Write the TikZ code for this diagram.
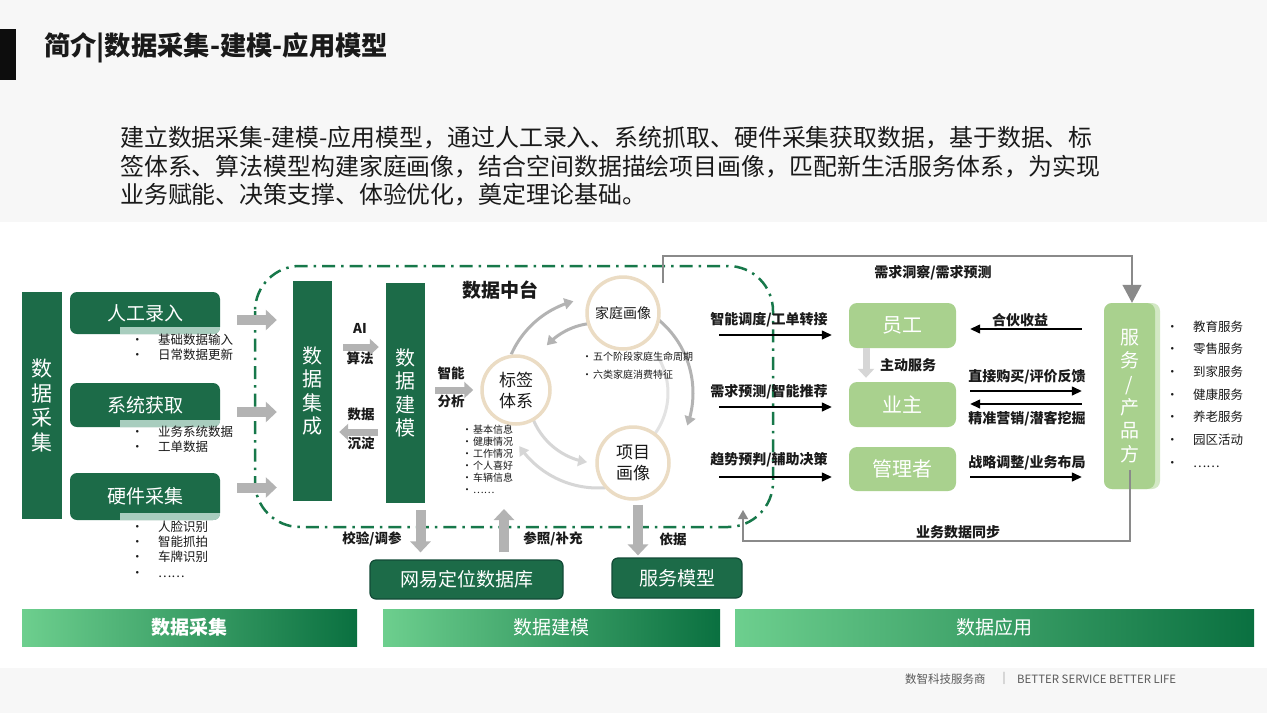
\documentclass[tikz,border=0pt]{standalone}
\usepackage{fontspec}
\setmainfont{Noto Sans CJK SC}
\usetikzlibrary{arrows.meta,calc}
\definecolor{dg}{HTML}{1C6B48}
\definecolor{stripc}{HTML}{A8CDBE}
\definecolor{lg}{HTML}{A9D18E}
\definecolor{lgs}{HTML}{D3E8C5}
\definecolor{bandgray}{HTML}{F7F7F7}
\definecolor{ddc}{HTML}{17784A}
\definecolor{ag}{HTML}{B3B3B3}
\definecolor{agl}{HTML}{D6D6D6}
\definecolor{agll}{HTML}{E3E3E3}
\definecolor{beige}{HTML}{EBDCC4}
\definecolor{connc}{HTML}{8A8A8A}
\definecolor{gll}{HTML}{6DCF8E}
\definecolor{gdd}{HTML}{0A7040}
\definecolor{txt}{HTML}{1A1A1A}
\definecolor{footc}{HTML}{5A5A5A}
\definecolor{dbborder}{HTML}{124A36}
\newcommand{\fs}[2]{\fontsize{#1}{#2}\selectfont}
\newcommand{\bl}[1]{\makebox[#1][l]{•}}
\begin{document}
\begin{tikzpicture}[x=1pt,y=-1pt,
  vbox/.style={fill=dg, text=white, inner sep=0, align=center},
  lbox/.style={fill=dg, text=white, inner sep=0, rounded corners=7, minimum width=150pt, font=\fs{19}{22}},
  gbox/.style={fill=lg, text=white, rounded corners=8, inner sep=0, minimum width=107pt, font=\fs{20}{24}},
  barrow/.style={draw=ag, line width=10pt, -{Triangle[length=11pt,width=20pt]}},
  sarrow/.style={draw=ag, line width=7pt, -{Triangle[length=9pt,width=16pt]}},
  karrow/.style={draw=black, line width=1.4pt, -{Triangle[length=10pt,width=9pt]}},
  lbl/.style={font=\bfseries\fs{13.5}{16}, text=txt, inner sep=0},
  blist/.style={align=left, inner sep=0, anchor=west, text=txt},
  conn/.style={draw=connc, line width=1.3pt},
  ring/.style={line width=3pt},
  circ/.style={circle, draw=beige, line width=3.5pt, fill=white, inner sep=0, align=center, text=txt},
  banner/.style={minimum height=37pt, inner sep=0, text=white, font=\fs{19}{22}},
  para/.style={anchor=west, inner sep=0, font=\fs{23.9}{28}, text=txt},
  dbbox/.style={fill=dg, draw=dbborder, line width=1.2pt, rounded corners=6, text=white, inner sep=0, font=\fs{19}{22}}
]
\useasboundingbox (0,0) rectangle (1267,713);
\fill[white] (0,0) rectangle (1267,713);
\fill[bandgray] (0,0) rectangle (1267,222);
\fill[bandgray] (0,668) rectangle (1267,713);
\fill[black!95] (0,29) rectangle (16,80);
\node[anchor=west, inner sep=0, font=\bfseries\fs{26.3}{30}, text=txt] (title) at (44,48) {简介|数据采集-建模-应用模型};
\node[para] (p1) at (120,138) {建立数据采集-建模-应用模型，通过人工录入、系统抓取、硬件采集获取数据，基于数据、标};
\node[para] (p2) at (120,167) {签体系、算法模型构建家庭画像，结合空间数据描绘项目画像，匹配新生活服务体系，为实现};
\node[para] (p3) at (120,195) {业务赋能、决策支撑、体验优化，奠定理论基础。};

% dash-dot platform region
\draw[draw=ddc, line width=2.5pt, dash pattern=on 13pt off 6pt on 2.5pt off 6pt, rounded corners=45] (255,266) rectangle (773,527);

% left column
\node[vbox, minimum width=40pt, minimum height=227pt, font=\fs{21}{24.5}] (cj) at (42,405.5) {数\\据\\采\\集};
\node[lbox, minimum height=42pt] (b1) at (145,313) {人工录入};
\node[lbox, minimum height=44pt] (b2) at (145,405) {系统获取};
\node[lbox, minimum height=47pt] (b3) at (145,496.5) {硬件采集};
\foreach \b in {b1,b2,b3}{
  \begin{scope}
    \clip[rounded corners=7] (\b.south west) rectangle (\b.north east);
    \fill[stripc] ($(\b.south west)+(50,-7)$) rectangle (\b.south east);
  \end{scope}
}
\node[blist, font=\fs{12.5}{15}] (l1) at (131,347.5) {\bl{27pt}基础数据输入\\\bl{27pt}日常数据更新};
\node[blist, font=\fs{12.5}{15}] (l2) at (131,439.5) {\bl{27pt}业务系统数据\\\bl{27pt}工单数据};
\node[blist, font=\fs{12.5}{15.3}] (l3) at (131,549) {\bl{27pt}人脸识别\\\bl{27pt}智能抓拍\\\bl{27pt}车牌识别\\\bl{27pt}……};

% integration and modelling
\node[vbox, minimum width=39pt, minimum height=220pt, font=\fs{20}{23.5}] (jc) at (312.5,391) {数\\据\\集\\成};
\node[vbox, minimum width=39pt, minimum height=220pt, font=\fs{20}{23.5}] (jm) at (405.5,393) {数\\据\\建\\模};
\foreach \b/\yy in {b1/7,b2/7,b3/-9}{
  \draw[barrow] ($(\b.east)+(17,\yy)$) -- ($(jc.west |- \b.east)+(-16,\yy)$);
}
\node[lbl] (ai) at (360,328) {AI};
\node[lbl] (sf) at (360,358) {算法};
\draw[sarrow] ($(jc.east |- 0,347)+(11,0)$) -- ($(jm.west |- 0,347)+(-7,0)$);
\node[lbl] (sj) at (361,414) {数据};
\node[lbl] (cd) at (361,443) {沉淀};
\draw[sarrow] ($(jm.west |- 0,432)+(-8,0)$) -- ($(jc.east |- 0,432)+(7,0)$);
\node[lbl] (zn) at (451,373) {智能};
\node[lbl] (fx) at (451,401) {分析};

% data platform
\node[font=\bfseries\fs{19}{22}, text=txt, inner sep=0] (dzt) at (500,290) {数据中台};
\draw[ring, draw=ag, -{Triangle[length=9pt,width=11pt]}] plot[domain=-156:-105, samples=30] ({598+95*cos(\x)},{393+95*sin(\x)});
\draw[ring, draw=ag, -{Triangle[length=9pt,width=11pt]}] plot[domain=-52:20, samples=30] ({598+95*cos(\x)},{393+95*sin(\x)});
\draw[ring, draw=agl, -{Triangle[length=9pt,width=11pt]}] plot[domain=85:146, samples=30] ({598+95*cos(\x)},{393+95*sin(\x)});
\draw[ring, draw=ag, -{Triangle[length=9pt,width=11pt]}] plot[domain=62:137, samples=30] ({598+70*cos(-\x)},{393+70*sin(-\x)});
\draw[ring, draw=agl, -{Triangle[length=9pt,width=11pt]}] plot[domain=99:166, samples=30] ({598+70*cos(265-\x)},{393+70*sin(265-\x)});
\draw[ring, draw=agll] plot[domain=-30:52, samples=30] ({598+70*cos(\x)},{393+70*sin(\x)});
\node[circ, minimum size=72pt, font=\fs{14}{17}] (jt) at (623,313) {家庭画像};
\node[circ, minimum size=68pt, font=\fs{17}{21}] (bq) at (516,390) {标签\\体系};
\node[circ, minimum size=72pt, font=\fs{17}{21}] (xm) at (633,463) {项目\\画像};
\draw[sarrow] ($(jm.east |- 0,390)+(10,0)$) -- ($(bq.west |- 0,390)+(-7,0)$);
\node[blist, font=\fs{10}{18}] (lj) at (582,366) {\bl{11pt}五个阶段家庭生命周期\\\bl{11pt}六类家庭消费特征};
\node[blist, font=\fs{10}{12}] (lb) at (462,459) {\bl{11pt}基本信息\\\bl{11pt}健康情况\\\bl{11pt}工作情况\\\bl{11pt}个人喜好\\\bl{11pt}车辆信息\\\bl{11pt}……};

% bottom databases
\node[dbbox, minimum width=193pt, minimum height=39pt] (db) at (466.5,579.5) {网易定位数据库};
\node[dbbox, minimum width=130pt, minimum height=40pt] (fm) at (677,578) {服务模型};
\coordinate (upt) at (504,509);
\draw[barrow] ($(jm.south)+(15,7)$) -- ($(jm.south |- db.north)+(15,-7)$);
\draw[barrow] ($(upt |- db.north)+(0,-7)$) -- (upt);
\draw[barrow] ($(xm.south)+(5,4)$) -- ($(xm.south |- fm.north)+(5,-2)$);
\node[lbl] (jy) at (372,539) {校验/调参};
\node[lbl] (cz) at (553,539) {参照/补充};
\node[lbl] (yj) at (673,539) {依据};

% application side
\node[gbox, minimum height=45pt] (yg) at (902.5,325.5) {员工};
\node[gbox, minimum height=45pt] (yz) at (902.5,404.5) {业主};
\node[gbox, minimum height=44pt] (gl) at (902.5,469) {管理者};
\node[fill=lgs, rounded corners=8, minimum width=56pt, minimum height=186pt, inner sep=0] (fwb) at (1132,396) {};
\node[fill=lg, rounded corners=8, minimum width=51pt, minimum height=186pt, inner sep=0, text=white, align=center, font=\fs{19}{23.3}] (fw) at (1129.5,396) {服\\务\\/\\产\\品\\方};

\coordinate (s1) at (719,335);
\coordinate (s2) at (719,407);
\coordinate (s3) at (719,477);
\draw[karrow] (s1) -- ($(yg.west |- s1)+(-17,0)$);
\draw[karrow] (s2) -- ($(yz.west |- s2)+(-17,0)$);
\draw[karrow] (s3) -- ($(gl.west |- s3)+(-17,0)$);
\node[lbl, font=\bfseries\fs{14}{16}] (t1) at (769,320) {智能调度/工单转接};
\node[lbl, font=\bfseries\fs{14}{16}] (t2) at (769,392) {需求预测/智能推荐};
\node[lbl, font=\bfseries\fs{14}{16}] (t3) at (769,460) {趋势预判/辅助决策};

\draw[karrow] ($(fwb.west |- 0,329)+(-22,0)$) -- ($(yg.east |- 0,329)+(14,0)$);
\draw[karrow] ($(yz.east |- 0,391)+(14,0)$) -- ($(fwb.west |- 0,391)+(-22,0)$);
\draw[karrow] ($(fwb.west |- 0,404)+(-22,0)$) -- ($(yz.east |- 0,404)+(14,0)$);
\draw[karrow] ($(gl.east |- 0,477)+(14,0)$) -- ($(fwb.west |- 0,477)+(-22,0)$);
\node[lbl, font=\bfseries\fs{14}{16}] (r1) at (1020,320) {合伙收益};
\node[lbl, font=\bfseries\fs{14}{16}] (r2) at (1027,377) {直接购买/评价反馈};
\node[lbl, font=\bfseries\fs{14}{16}] (r3) at (1027,419) {精准营销/潜客挖掘};
\node[lbl, font=\bfseries\fs{14}{16}] (r4) at (1027,463) {战略调整/业务布局};

\draw[sarrow, draw=agl] ($(yg.south)+(-36.5,0)$) -- ($(yz.north)+(-36.5,-4)$);
\node[lbl, font=\bfseries\fs{14}{16}] (zd) at (908,365) {主动服务};

% feedback connectors
\coordinate (tstart) at (663,283);
\draw[conn, -{Triangle[length=18pt,width=19pt]}, draw=connc] (tstart) -- (663,256) -| (fwb.north);
\node[lbl, font=\bfseries\fs{14}{16}] (xq) at (933,273) {需求洞察/需求预测};
\coordinate (bcorner) at (743,541);
\coordinate (btip) at (743,510);
\draw[conn, -{Triangle[length=9pt,width=10pt]}] ($(fwb.south)+(-2,-19)$) |- (bcorner) -- (btip);
\node[lbl, font=\bfseries\fs{14}{16}] (yw) at (958,532) {业务数据同步};

\node[blist, font=\fs{12.5}{22.7}] (lr) at (1166,394) {\bl{27pt}教育服务\\\bl{27pt}零售服务\\\bl{27pt}到家服务\\\bl{27pt}健康服务\\\bl{27pt}养老服务\\\bl{27pt}园区活动\\\bl{27pt}……};

% banners
\node[banner, minimum width=335pt, left color=gll, right color=gdd] (bn1) at (189.5,627.5) {\bfseries 数据采集};
\node[banner, minimum width=337pt, left color=gll, right color=gdd] (bn2) at (551.5,627.5) {数据建模};
\node[banner, minimum width=519pt, left color=gll, right color=gdd] (bn3) at (994.5,627.5) {数据应用};

% footer
\node[anchor=west, inner sep=0, font=\fs{11.5}{13}, text=footc] (f1) at (905,679) {数智科技服务商};
\node[inner sep=0, font=\fs{11}{13}, text=footc!60] (f2) at (1004,678) {|};
\node[anchor=west, inner sep=0, font=\fs{11.5}{13}, text=footc] (f3) at (1017,679) {\resizebox{159pt}{!}{BETTER SERVICE BETTER LIFE}};
\end{tikzpicture}
\end{document}
